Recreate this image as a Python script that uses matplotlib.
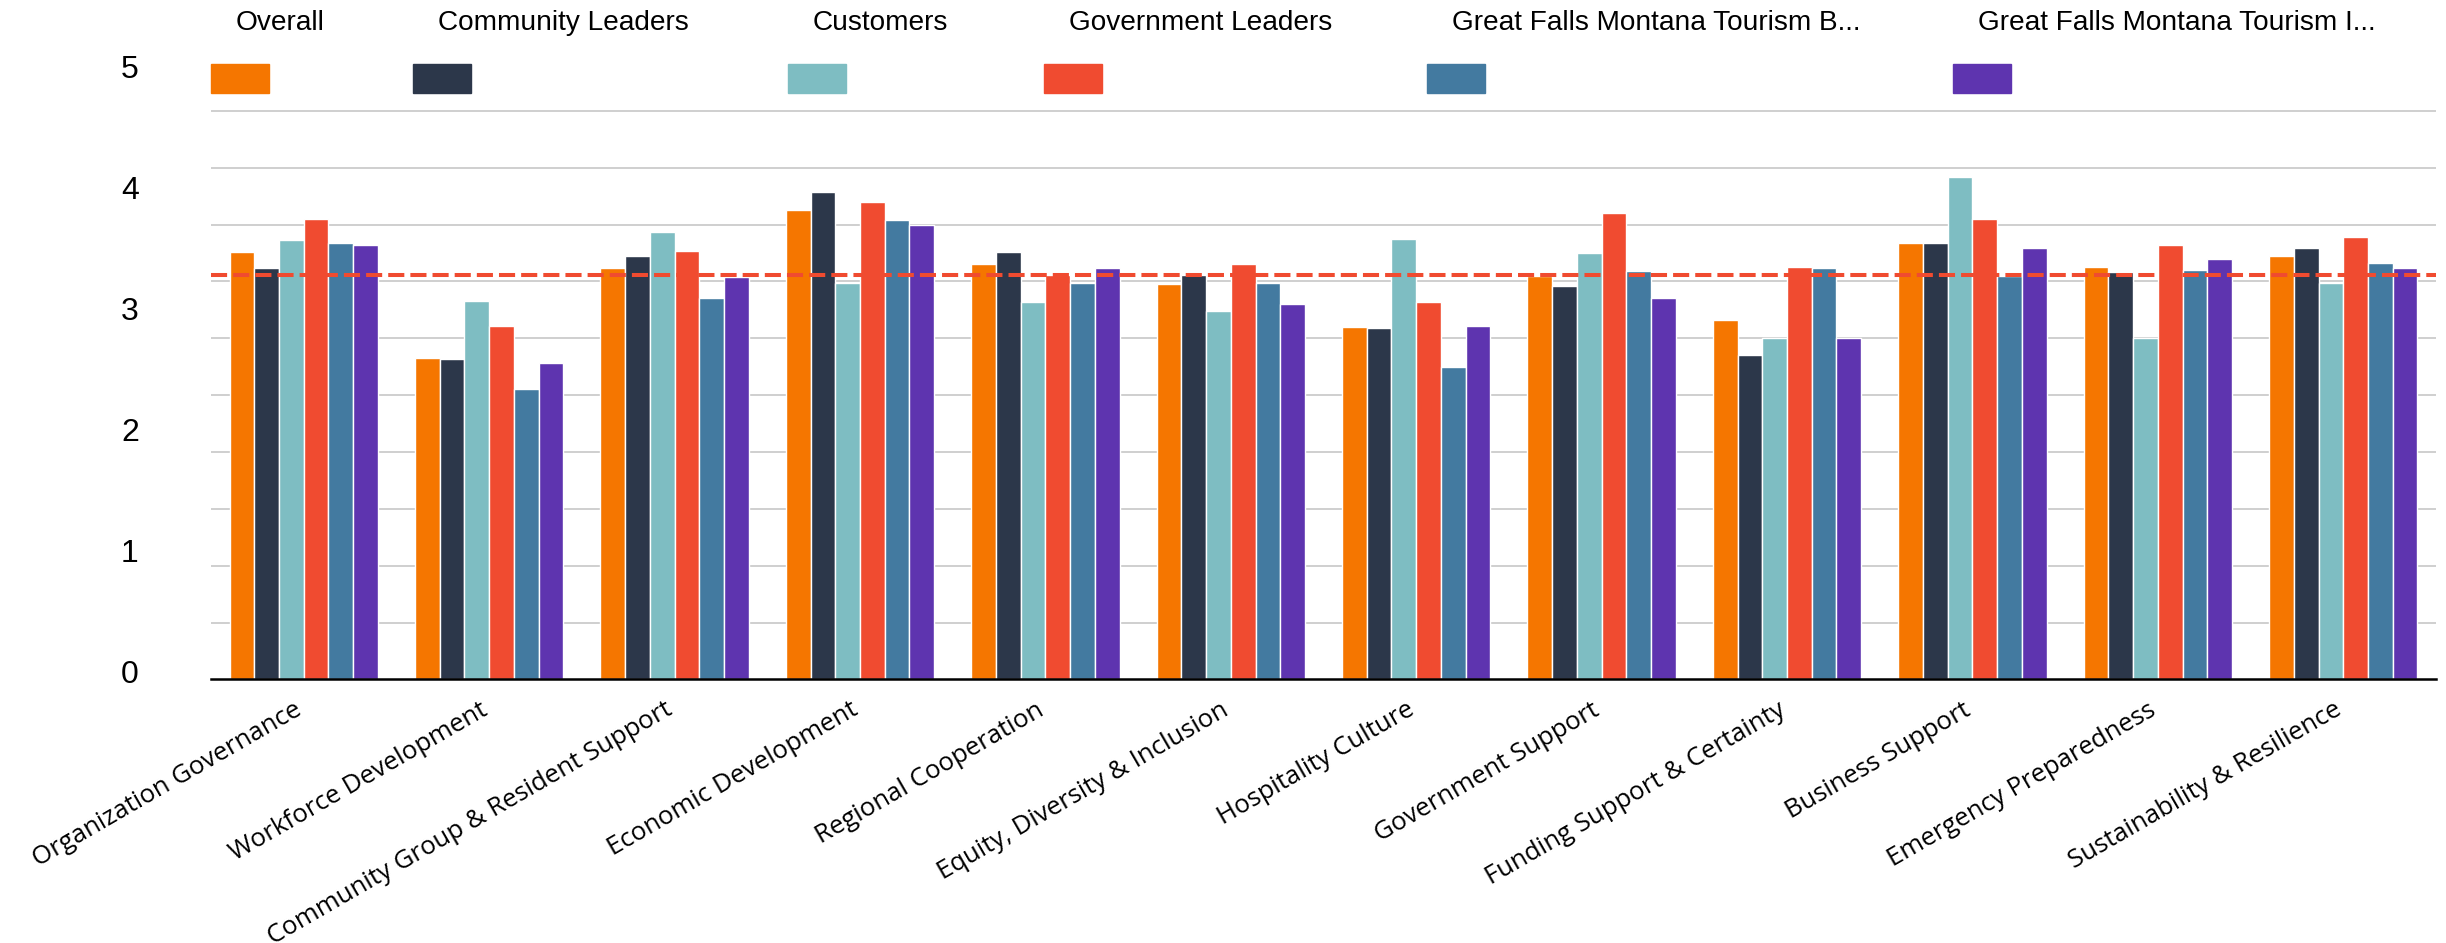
import numpy as np
import matplotlib
matplotlib.use("Agg")
import matplotlib.pyplot as plt
from matplotlib.patches import Rectangle
from matplotlib.transforms import ScaledTranslation

# ---- data -------------------------------------------------------------
categories = [
    "Organization Governance",
    "Workforce Development",
    "Community Group & Resident Support",
    "Economic Development",
    "Regional Cooperation",
    "Equity, Diversity & Inclusion",
    "Hospitality Culture",
    "Government Support",
    "Funding Support & Certainty",
    "Business Support",
    "Emergency Preparedness",
    "Sustainability & Resilience",
]

series_names = [
    "Overall",
    "Community Leaders",
    "Customers",
    "Government Leaders",
    "Great Falls Montana Tourism B...",
    "Great Falls Montana Tourism I...",
]

overall           = [3.76, 2.83, 3.62, 4.13, 3.65, 3.48, 3.10, 3.55, 3.16, 3.84, 3.63, 3.72]
community_leaders = [3.62, 2.82, 3.72, 4.29, 3.76, 3.56, 3.09, 3.46, 2.85, 3.84, 3.58, 3.79]
customers         = [3.86, 3.33, 3.93, 3.49, 3.32, 3.24, 3.87, 3.75, 3.00, 4.42, 3.00, 3.49]
government_leaders= [4.05, 3.11, 3.77, 4.20, 3.56, 3.65, 3.32, 4.10, 3.63, 4.05, 3.82, 3.89]
tourism_b         = [3.84, 2.55, 3.35, 4.04, 3.49, 3.49, 2.75, 3.59, 3.62, 3.55, 3.60, 3.66]
tourism_i         = [3.82, 2.78, 3.54, 4.00, 3.62, 3.30, 3.11, 3.35, 3.00, 3.79, 3.70, 3.62]

overall_average = 3.56

y_tick_labels = ["0", "1", "2", "3", "4", "5"]

# ---- styling ----------------------------------------------------------
colors = ["#F57600", "#2C374A", "#7EBDC2", "#F04B30", "#437AA0", "#5E34AF"]
series = [overall, community_leaders, customers, government_leaders, tourism_b, tourism_i]

W, H = 2446, 943
fig = plt.figure(figsize=(W / 100, H / 100), dpi=100)
fig.patch.set_facecolor("white")

# plot area in pixels (left, right, baseline, top)
left_px, right_px, base_px, top_px = 211, 2436, 679.4, 40
unit_px = 113.72  # pixels per data unit
ax = fig.add_axes([left_px / W, 1 - base_px / H,
                   (right_px - left_px) / W, (base_px - top_px) / H])
ax.set_ylim(0, (base_px - top_px) / unit_px)
ax.set_xlim(-0.5, len(categories) - 0.5)

x = np.arange(len(categories))
group_w = 0.8
bar_w = group_w / len(series)
for i, (vals, col) in enumerate(zip(series, colors)):
    ax.bar(x - group_w / 2 + bar_w * (i + 0.5), vals, width=bar_w,
           color=col, edgecolor="white", linewidth=1.0, zorder=2)

ax.axhline(overall_average, color="#F04B30", lw=2.9,
           ls=(0, (4.0, 1.5)), zorder=5)

# gridlines every half unit
ax.set_yticks(np.arange(0.5, 5.01, 0.5), minor=True)
ax.yaxis.grid(True, which="minor", color="#CCCCCC", lw=1.3, zorder=0)
ax.yaxis.grid(False, which="major")
ax.set_axisbelow(True)

# axis labels sit on their own spacing
label_offset, label_step = 0.072, 1.0631
ax.set_yticks([label_offset + label_step * k for k in range(len(y_tick_labels))])
ax.set_yticklabels(y_tick_labels, family=["Liberation Sans Narrow", "Liberation Sans"],
                   fontsize=23)
ax.tick_params(axis="y", which="both", length=0, pad=52)
for lbl in ax.get_yticklabels():
    lbl.set_horizontalalignment("right")

ax.set_xticks(x)
ax.set_xticklabels(categories, rotation=30, ha="right", rotation_mode="anchor",
                   family="Open Sans", fontsize=18.5)
ax.tick_params(axis="x", length=0, pad=13)
shift = ScaledTranslation(-10 / 100, 0, fig.dpi_scale_trans)
for lbl in ax.get_xticklabels():
    lbl.set_transform(lbl.get_transform() + shift)

for side in ("top", "right", "left"):
    ax.spines[side].set_visible(False)
ax.spines["bottom"].set_color("black")
ax.spines["bottom"].set_linewidth(1.8)
ax.spines["bottom"].set_zorder(6)

# legend: label above each colour swatch
legend_x_px = [211, 413, 788, 1044, 1427, 1953]
for sx, name, col in zip(legend_x_px, series_names, colors):
    fig.patches.append(Rectangle((sx / W, 1 - 93 / H), 58 / W, 29 / H,
                                 transform=fig.transFigure, color=col))
    fig.text((sx + 25) / W, 1 - 22.5 / H, name, ha="left", va="center",
             family="Liberation Sans", fontsize=20.2)

fig.savefig("out.png", dpi=100, facecolor="white")
